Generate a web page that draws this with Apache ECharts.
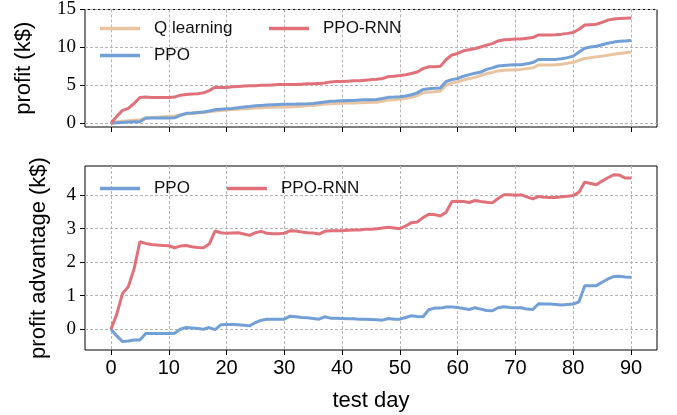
<!DOCTYPE html>
<html>
<head>
<meta charset="utf-8">
<script src="https://cdn.jsdelivr.net/npm/echarts@6/dist/echarts.min.js"></script>
<style>
  html, body { margin: 0; padding: 0; background: #fff; }
  #chart { width: 677px; height: 415px; }
</style>
</head>
<body>
<div id="chart"></div>
<script>
// test days 0..90
const days = [
  0, 1, 2, 3, 4, 5, 6, 7, 8, 9, 10, 11, 12, 13, 14, 15, 16, 17, 18, 19,
  20, 21, 22, 23, 24, 25, 26, 27, 28, 29, 30, 31, 32, 33, 34, 35, 36, 37, 38, 39,
  40, 41, 42, 43, 44, 45, 46, 47, 48, 49, 50, 51, 52, 53, 54, 55, 56, 57, 58, 59,
  60, 61, 62, 63, 64, 65, 66, 67, 68, 69, 70, 71, 72, 73, 74, 75, 76, 77, 78, 79,
  80, 81, 82, 83, 84, 85, 86, 87, 88, 89, 90
];

// cumulative profit (k$), top panel
const profitQ = [
  0, 0.15, 0.25, 0.32, 0.38, 0.42, 0.72, 0.75, 0.8, 0.85, 0.9, 0.94, 1.1, 1.2, 1.28, 1.35, 1.42, 1.5, 1.6, 1.68,
  1.75, 1.8, 1.85, 1.9, 1.95, 2.0, 2.05, 2.08, 2.1, 2.12, 2.13, 2.15, 2.2, 2.25, 2.3, 2.35, 2.45, 2.52, 2.56, 2.6,
  2.62, 2.65, 2.68, 2.7, 2.72, 2.75, 2.77, 2.9, 3.05, 3.1, 3.2, 3.3, 3.41, 3.65, 4.0, 4.1, 4.15, 4.25, 5.0, 5.3,
  5.45, 5.7, 5.9, 6.05, 6.3, 6.55, 6.7, 6.9, 6.98, 7.02, 7.05, 7.1, 7.2, 7.3, 7.68, 7.69, 7.69, 7.7, 7.78, 7.9,
  8.03, 8.3, 8.54, 8.65, 8.75, 8.85, 8.97, 9.1, 9.2, 9.3, 9.4
];
const profitPPO = [
  0, 0.05, 0.1, 0.15, 0.18, 0.2, 0.65, 0.68, 0.68, 0.7, 0.7, 0.72, 1.05, 1.3, 1.35, 1.42, 1.48, 1.6, 1.78, 1.85,
  1.9, 1.95, 2.05, 2.13, 2.2, 2.3, 2.35, 2.4, 2.45, 2.48, 2.5, 2.5, 2.52, 2.55, 2.56, 2.6, 2.7, 2.8, 2.9, 2.92,
  2.95, 2.98, 3.0, 3.05, 3.08, 3.1, 3.12, 3.25, 3.41, 3.45, 3.5, 3.6, 3.76, 4.0, 4.45, 4.55, 4.6, 4.65, 5.5, 5.75,
  5.9, 6.2, 6.41, 6.6, 6.75, 7.1, 7.3, 7.55, 7.62, 7.68, 7.7, 7.72, 7.85, 8.0, 8.4, 8.41, 8.41, 8.42, 8.5, 8.65,
  8.85, 9.4, 9.9, 10.05, 10.15, 10.35, 10.55, 10.7, 10.8, 10.85, 10.9
];
const profitRNN = [
  0, 0.9, 1.7, 1.95, 2.6, 3.4, 3.45, 3.4, 3.4, 3.4, 3.4, 3.45, 3.7, 3.8, 3.85, 3.9, 4.0, 4.3, 4.75, 4.7,
  4.72, 4.8, 4.85, 4.9, 4.95, 4.95, 5.0, 5.0, 5.05, 5.1, 5.1, 5.1, 5.1, 5.15, 5.2, 5.2, 5.25, 5.3, 5.45, 5.5,
  5.5, 5.55, 5.6, 5.6, 5.68, 5.75, 5.8, 5.9, 6.15, 6.2, 6.28, 6.4, 6.55, 6.75, 7.2, 7.45, 7.45, 7.5, 8.4, 9.0,
  9.2, 9.55, 9.7, 9.85, 10.05, 10.3, 10.5, 10.85, 11.0, 11.05, 11.1, 11.1, 11.2, 11.3, 11.65, 11.65, 11.65, 11.66, 11.75, 11.85,
  11.96, 12.4, 12.95, 13.0, 13.05, 13.3, 13.6, 13.75, 13.8, 13.85, 13.88
];

// profit advantage (k$), bottom panel
const advPPO = [
  0, -0.2, -0.37, -0.35, -0.32, -0.32, -0.13, -0.13, -0.13, -0.13, -0.13, -0.12, 0.0, 0.05, 0.04, 0.02, 0.0, 0.05, -0.01, 0.13,
  0.14, 0.14, 0.13, 0.12, 0.1, 0.2, 0.27, 0.3, 0.3, 0.3, 0.3, 0.39, 0.37, 0.35, 0.34, 0.32, 0.3, 0.37, 0.33, 0.33,
  0.32, 0.31, 0.31, 0.3, 0.3, 0.29, 0.28, 0.27, 0.32, 0.3, 0.3, 0.35, 0.4, 0.38, 0.37, 0.58, 0.63, 0.63, 0.66, 0.66,
  0.65, 0.62, 0.59, 0.64, 0.6, 0.56, 0.55, 0.64, 0.67, 0.65, 0.64, 0.64, 0.6, 0.59, 0.76, 0.75, 0.75, 0.74, 0.72, 0.74,
  0.75, 0.82, 1.3, 1.3, 1.3, 1.4, 1.5, 1.57, 1.58, 1.56, 1.55
];
const advRNN = [
  0, 0.45, 1.07, 1.27, 1.8, 2.61, 2.56, 2.53, 2.51, 2.5, 2.49, 2.43, 2.48, 2.5, 2.46, 2.44, 2.43, 2.54, 2.93, 2.88,
  2.86, 2.87, 2.88, 2.84, 2.8, 2.88, 2.92, 2.86, 2.85, 2.85, 2.86, 2.94, 2.93, 2.9, 2.88, 2.87, 2.84, 2.92, 2.94, 2.94,
  2.94, 2.95, 2.96, 2.96, 2.98, 2.98, 3.0, 3.02, 3.04, 3.02, 3.0, 3.08, 3.18, 3.2, 3.33, 3.43, 3.42, 3.38, 3.49, 3.81,
  3.82, 3.81, 3.78, 3.84, 3.81, 3.79, 3.77, 3.9, 4.01, 4.01, 4.0, 4.01, 3.95, 3.89, 3.96, 3.94, 3.93, 3.93, 3.95, 3.97,
  3.99, 4.09, 4.39, 4.35, 4.31, 4.42, 4.52, 4.61, 4.6, 4.51, 4.51
];

const xTicks = [0, 10, 20, 30, 40, 50, 60, 70, 80, 90];
const topYTicks = [0, 5, 10, 15];
const bottomYTicks = [0, 1, 2, 3, 4];

const colorQ = '#e8c4a0';
const colorPPO = '#72a0d6';
const colorRNN = '#e0717a';

const sansFont = 'Liberation Sans';
const serifFont = 'Liberation Serif';

const pair = arr => arr.map((v, i) => [days[i], v]);

const gridLine = { show: true, lineStyle: { color: '#b5b5b5', type: [3, 2], width: 1 } };

function xAxisFor(gridIndex, withLabels) {
  return {
    type: 'value',
    gridIndex: gridIndex,
    min: -4.5,
    max: 94.5,
    axisLine: { show: false, onZero: false },
    axisTick: { show: true, customValues: xTicks, length: 5, lineStyle: { color: '#000', width: 1 } },
    axisLabel: { show: withLabels, customValues: xTicks, color: '#000', fontFamily: sansFont, fontSize: 20, margin: 8 },
    splitLine: gridLine,
    name: withLabels ? 'test day' : '',
    nameLocation: 'middle',
    nameGap: 40,
    nameTextStyle: { color: '#000', fontFamily: sansFont, fontSize: 22 }
  };
}

function yAxisFor(gridIndex, min, max, ticks, title, gap) {
  return {
    type: 'value',
    gridIndex: gridIndex,
    min: min,
    max: max,
    axisLine: { show: false, onZero: false },
    axisTick: { show: true, customValues: ticks, length: 5, lineStyle: { color: '#000', width: 1 } },
    axisLabel: { customValues: ticks, color: '#000', fontFamily: serifFont, fontSize: 19, margin: 9 },
    splitLine: gridLine,
    name: title,
    nameLocation: 'middle',
    nameRotate: 90,
    nameGap: gap,
    nameTextStyle: { color: '#000', fontFamily: sansFont, fontSize: 22 }
  };
}

function legendAt(name, left, top) {
  return {
    data: [name],
    left: left,
    top: top,
    padding: 0,
    icon: 'rect',
    itemWidth: 40,
    itemHeight: 3.5,
    selectedMode: false,
    textStyle: { color: '#111', fontFamily: sansFont, fontSize: 17, padding: [0, 0, 0, 9] }
  };
}

function lineSeries(name, data, color, xi, yi) {
  return {
    name: name,
    type: 'line',
    xAxisIndex: xi,
    yAxisIndex: yi,
    data: pair(data),
    showSymbol: false,
    symbol: 'none',
    lineStyle: { color: color, width: 3 },
    itemStyle: { color: color }
  };
}

const chart = echarts.init(document.getElementById('chart'), null, { renderer: 'canvas' });
chart.setOption({
  animation: false,
  backgroundColor: '#fff',
  grid: [
    { left: 85, right: 20, top: 6, height: 121, show: true, borderColor: '#000', borderWidth: 1, backgroundColor: 'transparent' },
    { left: 85, right: 20, top: 166, height: 184, show: true, borderColor: '#000', borderWidth: 1, backgroundColor: 'transparent' }
  ],
  xAxis: [xAxisFor(0, false), xAxisFor(1, true)],
  yAxis: [
    yAxisFor(0, -0.5, 15, topYTicks, 'profit (k$)', 50),
    yAxisFor(1, -0.62, 4.87, bottomYTicks, 'profit advantage (k$)', 35)
  ],
  legend: [
    legendAt('Q learning', 100, 20),
    legendAt('PPO-RNN', 269, 20),
    legendAt('PPO', 100, 47),
    legendAt('PPO', 100, 180),
    legendAt('PPO-RNN', 227, 180)
  ],
  series: [
    lineSeries('Q learning', profitQ, colorQ, 0, 0),
    lineSeries('PPO', profitPPO, colorPPO, 0, 0),
    lineSeries('PPO-RNN', profitRNN, colorRNN, 0, 0),
    lineSeries('PPO', advPPO, colorPPO, 1, 1),
    lineSeries('PPO-RNN', advRNN, colorRNN, 1, 1)
  ]
});
</script>
</body>
</html>
